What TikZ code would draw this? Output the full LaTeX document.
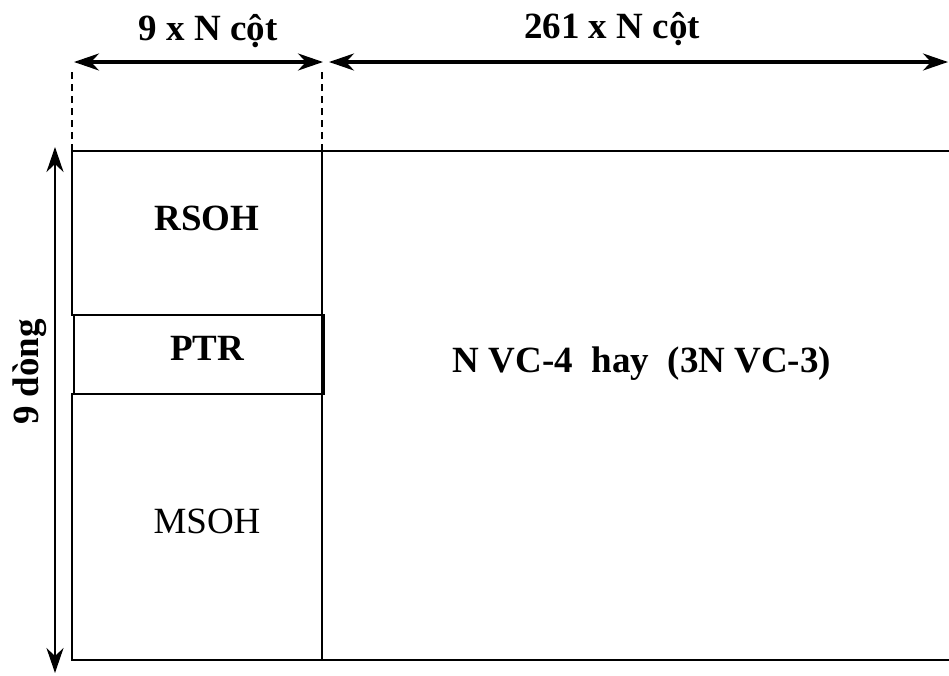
\documentclass[tikz,border=0pt]{standalone}
\usepackage{fontspec}
\setmainfont{Liberation Serif}
\usetikzlibrary{arrows.meta}
\begin{document}
\begin{tikzpicture}[x=1pt,y=-1pt,>={Stealth[length=25pt,width=17pt,inset=8pt]}]
  \tikzset{
    cell/.style={draw,line width=2.2pt,inner sep=0pt,outer sep=0pt},
    span/.style={<->,line width=3.2pt},
    rows/.style={<->,line width=2.2pt},
    guide/.style={line width=1.3pt,dash pattern=on 7pt off 5pt},
    tag/.style={font=\fontsize{37}{40}\selectfont\bfseries,anchor=base,inner sep=0pt}
  }
  \clip (0,0) rectangle (949,675);

  \node[cell,minimum width=250pt,minimum height=164pt] (rsoh) at (197,233) {};
  \node[cell,minimum width=250pt,minimum height=79pt] (ptr) at (199,354.5) {};
  \node[cell,minimum width=250pt,minimum height=266pt] (msoh) at (197,527) {};
  \node[cell,minimum width=640pt,minimum height=509pt] (vc) at (642,405.5) {};

  \node[tag] at (207,230) {RSOH};
  \node[tag] at (207,360) {PTR};
  \node[tag,font=\fontsize{37}{40}\selectfont] at (207,533) {MSOH};
  \node[tag] at (642,372) {N VC-4\ \ hay\ \ (3N VC-3)};

  \coordinate (d1) at (72,68);
  \coordinate (d2) at (322,68);
  \draw[guide] (rsoh.north west) -- (d1);
  \draw[guide] (rsoh.north east) -- (d2);

  \coordinate (a1) at (74,62);
  \coordinate (a2) at (323,62);
  \coordinate (b1) at (329,62);
  \coordinate (b2) at (948,62);
  \draw[span] (a1) -- (a2);
  \draw[span] (b1) -- (b2);
  \node[tag] at (208,40) {9 x N cột};
  \node[tag] at (612,38) {261 x N cột};

  \coordinate (r1) at (55,147);
  \coordinate (r2) at (55,673);
  \draw[rows] (r1) -- (r2);
  \node[tag,rotate=90] at (38,372) {9 dòng};
\end{tikzpicture}
\end{document}
